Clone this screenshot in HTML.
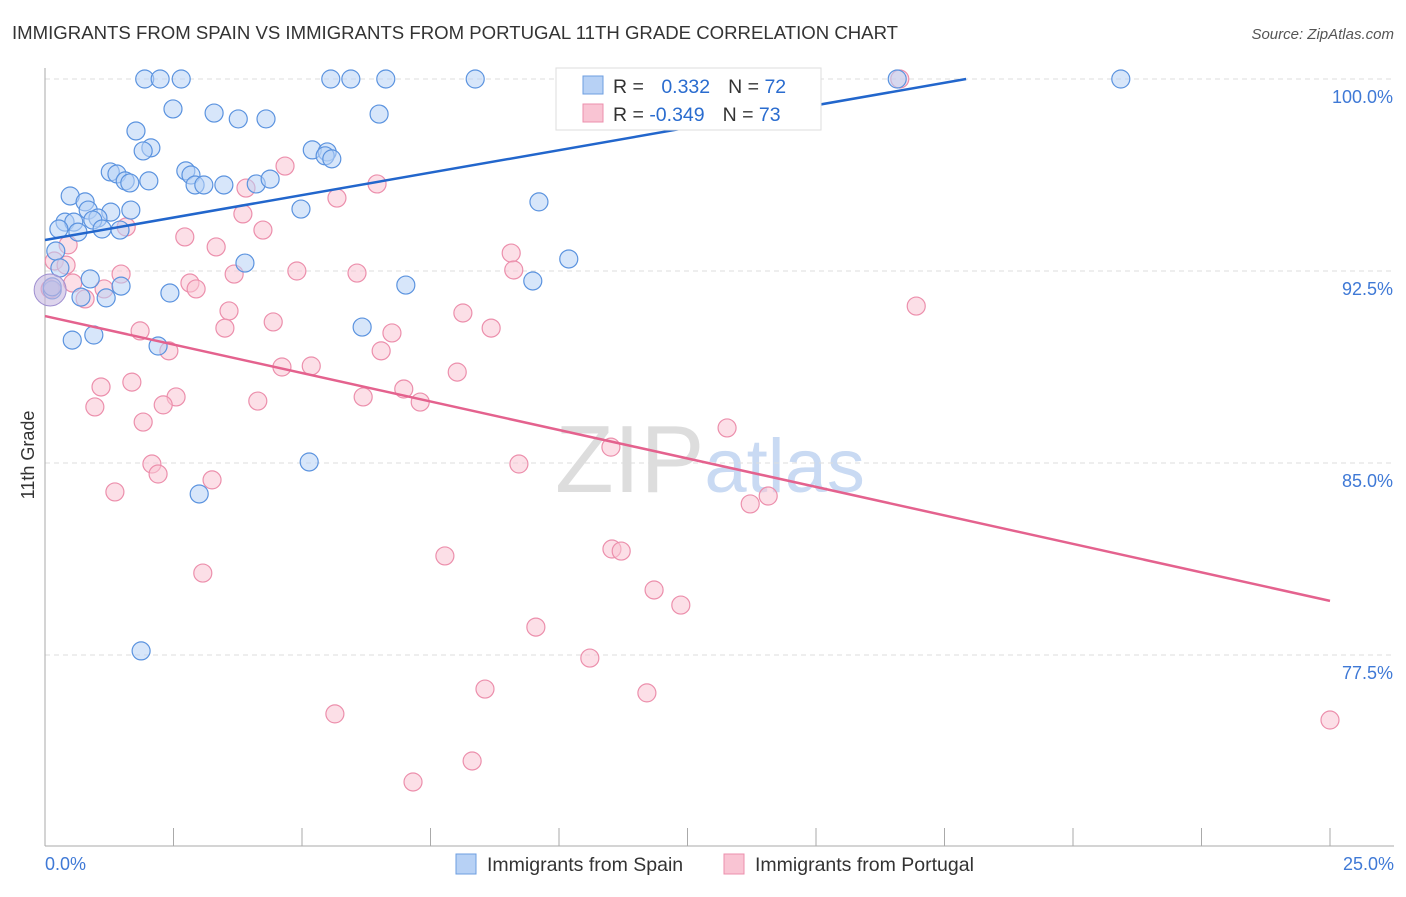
<!DOCTYPE html>
<html><head><meta charset="utf-8"><style>
body{margin:0;background:#fff;font-family:"Liberation Sans",sans-serif;}
svg text{font-family:"Liberation Sans",sans-serif;}
</style></head><body>
<svg id="chart" width="1406" height="892" viewBox="0 0 1406 892" xmlns="http://www.w3.org/2000/svg">
<text x="12" y="39" font-size="18.6" fill="#333">IMMIGRANTS FROM SPAIN VS IMMIGRANTS FROM PORTUGAL 11TH GRADE CORRELATION CHART</text>
<text x="1394" y="39" font-size="15" fill="#555" text-anchor="end" font-style="italic">Source: ZipAtlas.com</text>
<text x="555" y="492" font-size="96" fill="#ddd" font-family="Liberation Serif,serif">ZIP<tspan fill="#c9daf3" font-family="Liberation Sans,sans-serif" font-size="76">atlas</tspan></text>
<text transform="translate(34,455) rotate(-90)" font-size="18" fill="#333" text-anchor="middle">11th Grade</text>
<g id="grid"></g><g id="axes"></g><g id="pts"></g><g id="trend"></g>
<g>
<rect x="556" y="68" width="265" height="62" fill="#fff" stroke="#ddd"/>
<rect x="583" y="76" width="20" height="18" fill="#b7d1f5" stroke="#6c9ee0"/>
<rect x="583" y="104" width="20" height="18" fill="#f9c4d3" stroke="#ec8fac"/>
<text x="613" y="93" font-size="19.5" fill="#333">R = <tspan fill="#2a6ccf" dx="12">0.332</tspan><tspan dx="18">N = </tspan><tspan fill="#2a6ccf">72</tspan></text>
<text x="613" y="121" font-size="19.5" fill="#333">R = <tspan fill="#2a6ccf">-0.349</tspan><tspan dx="18">N = </tspan><tspan fill="#2a6ccf">73</tspan></text>
</g>
<g>
<rect x="456" y="854" width="20" height="20" fill="#b7d1f5" stroke="#6c9ee0"/>
<text x="487" y="871" font-size="19.5" fill="#333">Immigrants from Spain</text>
<rect x="724" y="854" width="20" height="20" fill="#f9c4d3" stroke="#ec8fac"/>
<text x="755" y="871" font-size="19.5" fill="#333">Immigrants from Portugal</text>
</g>
</svg>
<script>
const yTicks=[100,92.5,85,77.5];
const yTickLabels=["100.0%","92.5%","85.0%","77.5%"];
const xTickLabels=["0.0%","25.0%"];
const spainX=[1.94,2.24,2.65,5.56,5.95,6.63,8.37,20.93,16.58,11.15,2.49,3.29,3.76,4.3,6.5,1.77,2.06,1.91,5.2,5.49,5.45,5.58,1.27,1.4,2.74,2.84,1.56,1.65,2.02,2.92,3.09,3.48,4.11,4.38,0.49,0.78,0.84,1.28,1.67,1.03,0.93,0.39,0.56,0.27,0.64,1.11,1.46,4.98,9.61,0.21,0.29,3.89,10.19,9.49,7.02,0.88,1.48,2.43,0.7,1.19,0.14,0.14,6.17,0.53,0.95,2.2,5.14,3.0,1.87];
const spainY=[100,100,100,100,100,100,100,100,100,100,98.83,98.67,98.44,98.44,98.63,97.97,97.31,97.19,97.23,97.15,97.0,96.88,96.37,96.29,96.41,96.25,96.02,95.94,96.02,95.86,95.86,95.86,95.9,96.09,95.43,95.2,94.88,94.8,94.88,94.57,94.49,94.41,94.41,94.14,94.02,94.14,94.1,94.92,95.2,93.28,92.62,92.81,92.97,92.11,91.95,92.19,91.91,91.64,91.48,91.45,91.76,91.88,90.31,89.8,90.0,89.57,85.04,83.79,77.66];
const portX=[16.63,13.85,4.67,3.91,6.46,3.85,5.68,4.24,1.58,2.72,3.33,0.45,9.07,0.18,0.41,4.9,6.07,9.12,3.68,2.82,1.48,2.94,1.15,0.54,0.78,16.95,3.58,8.13,4.44,3.5,1.85,6.75,8.68,2.41,6.54,4.61,5.18,8.02,1.09,1.69,6.98,2.55,4.14,6.19,2.3,0.97,7.3,1.91,13.27,11.01,2.08,2.2,9.22,3.25,1.36,14.07,13.72,7.78,11.03,11.21,3.07,11.85,12.37,9.55,10.6,11.71,8.56,5.64,25.0,8.31,7.16,0.1];
const portY=[100,100,96.6,95.74,95.9,94.73,95.35,94.1,94.22,93.83,93.44,93.52,93.2,92.89,92.73,92.5,92.42,92.54,92.38,92.03,92.38,91.8,91.8,92.03,91.41,91.13,90.94,90.86,90.51,90.27,90.16,90.08,90.27,89.38,89.38,88.75,88.79,88.55,87.97,88.16,87.89,87.58,87.42,87.58,87.27,87.19,87.38,86.6,86.37,85.62,84.96,84.57,84.96,84.34,83.87,83.71,83.4,81.37,81.64,81.56,80.7,80.04,79.45,78.59,77.38,76.02,76.17,75.2,74.96,73.36,72.54,91.8];
const spainTrend=[93.71,0.351];
const portTrend=[90.74,-0.445];
const x=v=>45+v*51.4, y=v=>79+(100-v)*25.6;
const NS="http://www.w3.org/2000/svg";
function mk(tag,attrs,parent){const e=document.createElementNS(NS,tag);for(const k in attrs)e.setAttribute(k,attrs[k]);document.getElementById(parent).appendChild(e);return e;}
yTicks.forEach((t,i)=>{
 const l=mk('line',{x1:45,x2:1394,y1:y(t),y2:y(t),stroke:'#ddd','stroke-dasharray':'5,4'},'grid');
 
 
 const tx=mk('text',{x:1393,y:y(t)+24,'font-size':18,fill:'#3f79d6','text-anchor':'end'},'grid');
 tx.textContent=yTickLabels[i];
 
 
});
const ya=mk('line',{x1:45,x2:45,y1:68,y2:846,stroke:'#aaa'},'axes');


const xa=mk('line',{x1:45,x2:1394,y1:846,y2:846,stroke:'#aaa'},'axes');


for(let i=0;i<=10;i++){const t=mk('line',{x1:x(i*2.5),x2:x(i*2.5),y1:828,y2:846,stroke:'#aaa'},'axes');
 
 }
[[0,'start',45],[25,'end',1394]].forEach((d,i)=>{const t=mk('text',{x:d[2],y:870,'font-size':18,fill:'#3f79d6','text-anchor':d[1]},'axes');t.textContent=xTickLabels[i];
 
 });
function pts(xs,ys,fill,stroke,name){xs.forEach((v,i)=>{const c=mk('circle',{cx:x(v),cy:y(ys[i]),r:9,fill:fill,'fill-opacity':0.55,stroke:stroke,'stroke-width':1.2},'pts');
 
 });}
pts(portX,portY,'#f9c4d3','#ec8fac','portugal-point');
pts(spainX,spainY,'#b7d1f5','#5b93df','spain-point');
const big=mk('circle',{cx:x(0.1),cy:y(91.76),r:16,fill:'#c6b8e0','fill-opacity':0.6,stroke:'#9f8fd0'},'pts');


const [sa,sb]=spainTrend;
let sx2=Math.min(25,(100-sa)/sb);
const l1=mk('line',{x1:x(0),y1:y(sa),x2:x(sx2),y2:y(sa+sb*sx2),stroke:'#2266cc','stroke-width':2.5},'trend');


const [pa,pb]=portTrend;
const l2=mk('line',{x1:x(0),y1:y(pa),x2:x(25),y2:y(pa+pb*25),stroke:'#e4628e','stroke-width':2.5},'trend');


</script>
</body></html>
